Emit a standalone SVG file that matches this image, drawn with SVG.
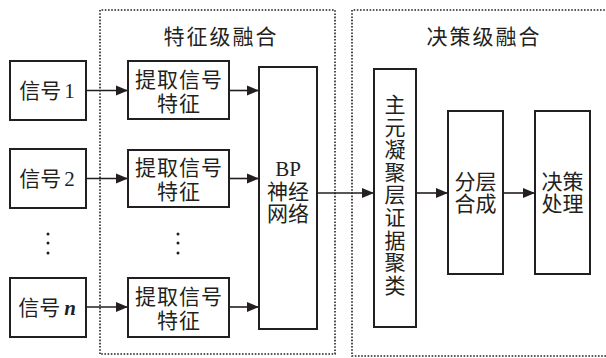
<svg xmlns="http://www.w3.org/2000/svg" width="606" height="358" viewBox="0 0 606 358">
<defs>
<style>
.box{fill:#fff;stroke:#231f20;stroke-width:2}
.dot{fill:none;stroke:#231f20;stroke-width:1.6;stroke-dasharray:1.6 1.6}
.ln{fill:none;stroke:#231f20;stroke-width:1.6}
text{font-family:"Liberation Serif","Noto Sans CJK SC",serif;font-size:21px;fill:#231f20;text-anchor:middle}
.ti{font-size:21px;letter-spacing:2px}
.ls{letter-spacing:1px}
.d{fill:#231f20}
</style>
<marker id="ah" markerUnits="userSpaceOnUse" markerWidth="12" markerHeight="12" viewBox="0 0 12 12" refX="12" refY="6" orient="auto">
<path d="M0,1 L12,6 L0,11 Z" fill="#231f20"/>
</marker>
</defs>
<g id="feature-region">
<path class="dot" d="M100,354 V10 H335 V354 Z"/>
<text class="ti" x="221" y="44">特征级融合</text>
</g>
<g id="decision-region">
<path class="dot" d="M608,10 H352 V356 H608"/>
<text class="ti" x="484" y="44">决策级融合</text>
</g>
<g id="connectors">
<line class="ln" x1="86" y1="90.5" x2="128" y2="90.5" marker-end="url(#ah)"/>
<line class="ln" x1="86" y1="178.5" x2="128" y2="178.5" marker-end="url(#ah)"/>
<line class="ln" x1="86" y1="307" x2="128" y2="307" marker-end="url(#ah)"/>
<line class="ln" x1="229" y1="90.5" x2="259" y2="90.5" marker-end="url(#ah)"/>
<line class="ln" x1="229" y1="178.5" x2="259" y2="178.5" marker-end="url(#ah)"/>
<line class="ln" x1="229" y1="307" x2="259" y2="307" marker-end="url(#ah)"/>
<line class="ln" x1="317" y1="193" x2="374" y2="193" marker-end="url(#ah)"/>
<line class="ln" x1="416" y1="193" x2="448" y2="193" marker-end="url(#ah)"/>
<line class="ln" x1="503" y1="193" x2="535" y2="193" marker-end="url(#ah)"/>
</g>
<g id="signal1">
<rect class="box" x="10" y="61" width="76" height="59"/>
<text x="47" y="98">信号<tspan dx="3">1</tspan></text>
</g>
<g id="signal2">
<rect class="box" x="10" y="149" width="76" height="59"/>
<text x="47" y="186">信号<tspan dx="3">2</tspan></text>
</g>
<g id="dots1">
<circle class="d" cx="48" cy="234" r="1.5"/>
<circle class="d" cx="48" cy="243" r="1.5"/>
<circle class="d" cx="48" cy="253" r="1.5"/>
</g>
<g id="signaln">
<rect class="box" x="10" y="278" width="76" height="59"/>
<text x="47" y="315">信号<tspan dx="4" font-style="italic" font-weight="bold">n</tspan></text>
</g>
<g id="feat1">
<rect class="box" x="128" y="61" width="101" height="58"/>
<text class="ls" x="179" y="87">提取信号</text>
<text class="ls" x="179" y="111">特征</text>
</g>
<g id="feat2">
<rect class="box" x="128" y="150" width="101" height="57"/>
<text class="ls" x="179" y="175">提取信号</text>
<text class="ls" x="179" y="199">特征</text>
</g>
<g id="dots2">
<circle class="d" cx="178" cy="234" r="1.5"/>
<circle class="d" cx="178" cy="243" r="1.5"/>
<circle class="d" cx="178" cy="253" r="1.5"/>
</g>
<g id="featn">
<rect class="box" x="128" y="278" width="101" height="59"/>
<text class="ls" x="179" y="304">提取信号</text>
<text class="ls" x="179" y="328">特征</text>
</g>
<g id="bp">
<rect class="box" x="259" y="67" width="58" height="262"/>
<text x="288" y="176">BP</text>
<text x="288" y="199">神经</text>
<text x="288" y="221">网络</text>
</g>
<g id="cluster">
<rect class="box" x="374" y="69" width="42" height="258"/>
<text x="395" y="112">主</text>
<text x="395" y="134.6">元</text>
<text x="395" y="157.2">凝</text>
<text x="395" y="179.8">聚</text>
<text x="395" y="202.4">层</text>
<text x="395" y="225">证</text>
<text x="395" y="247.6">据</text>
<text x="395" y="270.2">聚</text>
<text x="395" y="292.8">类</text>
</g>
<g id="layered">
<rect class="box" x="448" y="111" width="55" height="163"/>
<text x="475.5" y="189">分层</text>
<text x="475.5" y="211">合成</text>
</g>
<g id="decision">
<rect class="box" x="535" y="111" width="55" height="163"/>
<text x="562.5" y="189">决策</text>
<text x="562.5" y="211">处理</text>
</g>
</svg>
